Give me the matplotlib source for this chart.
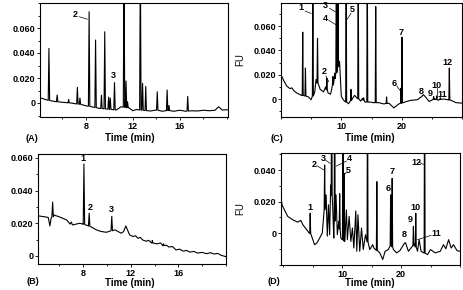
import numpy as np
import matplotlib
matplotlib.use("Agg")
import matplotlib.pyplot as plt
from matplotlib.ticker import MultipleLocator

plt.rcParams['font.family'] = ['Liberation Sans Narrow', 'Liberation Sans', 'DejaVu Sans']
plt.rcParams['font.size'] = 6.5
plt.rcParams['font.weight'] = 'bold'

# ---------------- data ----------------
# (A) baseline knots and peaks
a_base_t = [4.1, 4.5, 5.0, 5.5, 6.0, 6.5, 7.0, 7.6, 8.0, 8.5, 9.0, 9.5, 10.0, 10.6, 11.0,
            11.7, 12.0, 12.3, 13.0, 13.5, 14.0, 14.5, 15.0, 15.5, 16.0, 16.5, 17.0,
            17.5, 18.0, 18.5, 19.0, 19.3, 19.6, 20.1]
a_base_y = [0.0042, 0.0030, 0.0018, 0.0010, 0.0006, 0.0002, -0.0004, -0.0012, -0.0022, -0.0030,
            -0.0040, -0.0046, -0.0050, -0.0056, -0.0030, -0.0040, -0.0062, -0.0052, -0.0060,
            -0.0064, -0.0056, -0.0066, -0.0060, -0.0066, -0.0058, -0.0066, -0.0062,
            -0.0064, -0.0058, -0.0062, -0.0058, -0.0030, -0.0056, -0.0054]
a_pk_t = [4.86, 5.56, 6.53, 7.28, 7.50, 8.28, 8.83, 9.33, 9.61, 9.94, 10.08, 10.44,
          11.25, 11.42, 11.55, 12.64, 12.83, 13.10, 14.08, 14.92, 15.08, 16.67]
a_pk_y = [0.0437, 0.0064, 0.0029, 0.0125, 0.0040, 0.0730, 0.0504, 0.0063, 0.0570, 0.0047,
          0.0040, 0.0163, 0.1200, 0.0176, 0.0010, 0.1200, 0.0157, 0.0133, 0.0090, 0.0104,
          -0.0020, 0.0053]

# (B)
b_base_t = [4.2, 5.06, 5.2, 5.3, 5.55, 5.9, 6.6, 6.9, 7.0, 7.1, 7.7, 7.95, 8.2, 8.4, 9.1, 9.5,
            9.95, 10.66, 11.2, 11.4, 11.58, 11.9, 12.2, 12.4, 12.6, 12.8, 13.0, 13.3, 13.5,
            13.8, 14.2, 14.5, 14.7, 15.0, 15.2, 15.5, 15.8, 16.1, 16.4, 16.7, 16.95, 17.3,
            17.6, 18.0, 18.35, 18.7, 19.0, 19.3, 19.6, 20.0]
b_base_y = [0.0246, 0.0236, 0.0184, 0.0230, 0.0250, 0.0242, 0.0221, 0.0195, 0.0207, 0.0190,
            0.0200, 0.0196, 0.0190, 0.0186, 0.0160, 0.0150, 0.0145, 0.0160, 0.0139, 0.0150,
            0.0184, 0.0129, 0.0119, 0.0124, 0.0108, 0.0114, 0.0098, 0.0090, 0.0096,
            0.0080, 0.0074, 0.0080, 0.0063, 0.0066, 0.0055, 0.0058, 0.0037, 0.0042,
            0.0030, 0.0034, 0.0024, 0.0028, 0.0018, 0.0022, 0.0014, 0.0020, 0.0012,
            0.0016, 0.0004, -0.0004]
b_pk_t = [5.43, 8.06, 8.50, 10.40, 13.80, 14.75]
b_pk_y = [0.0330, 0.0563, 0.0262, 0.0242, 0.0095, 0.0075]

# (C)
c_base_t = [0.0, 0.4, 0.95, 1.5, 1.8, 2.1, 2.6, 3.4, 3.8, 4.55, 5.0, 5.6, 5.8, 6.5, 7.05, 7.4,
            7.8, 8.2, 8.4, 9.7, 10.0, 10.4, 11.2, 11.8, 12.2, 13.2, 13.5, 13.9, 14.8,
            15.3, 16.2, 17.0, 17.9, 18.7, 19.55, 20.5, 21.5, 22.6, 23.3, 23.6, 23.9,
            24.55, 25.5, 26.1, 26.4, 27.0, 28.2, 29.0, 30.0]
c_base_y = [0.0199, 0.0157, 0.0107, 0.0085, 0.0092, 0.0070, 0.0050, 0.0030, 0.0028, 0.0017,
            -0.0006, 0.0060, 0.0160, 0.0079, 0.0059, 0.0100, 0.0050, 0.0040, 0.0080, 0.0310,
            0.0020, -0.0011, -0.0039, 0.0000, 0.0030, -0.0017, 0.0005, -0.0025, -0.0025,
            -0.0030, -0.0030, -0.0040, -0.0035, -0.0073, -0.0040, -0.0025, -0.0011, -0.0006,
            0.0020, 0.0036, 0.0020, -0.0020, 0.0000, -0.0010, -0.0003, 0.0000, -0.0011,
            -0.0030, -0.0034]
c_pk_t = [3.60, 4.05, 5.28, 6.05, 7.60, 8.60, 8.90, 9.17, 9.45, 10.80, 11.60, 12.80, 13.70,
          14.30, 15.70, 17.50, 19.90, 20.05, 25.30, 25.80, 26.40, 27.90]
c_pk_y = [0.0550, 0.0255, 0.1200, 0.0499, 0.0170, 0.0185, 0.0213, 0.1200, 0.1200, 0.1200,
          0.0079, 0.1200, 0.0010, 0.1200, 0.0760, 0.0017, 0.0090, 0.0508, 0.0020, 0.0025,
          0.0010, 0.0255]

# (D)
d_base_t = [-0.35, -0.17, 0.23, 0.8, 1.65, 2.5, 2.95, 3.35, 4.0, 4.75, 5.34, 5.74, 6.2, 6.65,
            7.3, 7.5, 7.7, 7.9, 8.07, 8.4, 8.6, 8.98, 9.2, 9.43, 9.8, 10.45, 10.74, 10.9,
            11.2, 11.5, 11.76, 12.0, 12.33, 12.5, 12.7, 13.0, 13.3, 13.6, 13.97, 14.7,
            15.2, 15.4, 16.4, 16.9, 17.3, 17.84, 18.35, 18.7, 19.26, 19.8, 20.7, 21.25,
            21.8, 22.3, 22.8, 23.07, 23.4, 24.5, 25.0, 25.8, 26.65, 27.2, 27.6, 28.07,
            28.5, 28.9, 29.5, 30.0]
d_base_y = [0.0221, 0.0179, 0.0147, 0.0105, 0.0084, 0.0069, 0.0078, 0.0053, 0.0021, -0.0010,
            -0.0074, -0.0063, -0.0032, 0.0000, 0.0242, -0.0020, 0.0179, -0.0011, 0.0305,
            0.0179, -0.0032, 0.0242, -0.0011, 0.0074, -0.0032, -0.0053, 0.0147, -0.0042,
            0.0105, -0.0053, 0.0032, -0.0095, 0.0140, -0.0116, 0.0116, -0.0116, 0.0032,
            -0.0105, -0.0011, -0.0105, -0.0074, -0.0095, -0.0126, -0.0168, -0.0116, -0.0105,
            -0.0074, -0.0105, -0.0126, -0.0112, -0.0063, -0.0116, -0.0090, -0.0070, -0.0116,
            -0.0042, -0.0116, -0.0137, -0.0105, -0.0126, -0.0116, -0.0074, -0.0100, -0.0042,
            -0.0095, -0.0074, -0.0112, -0.0116]
d_pk_t = [2.95, 4.60, 7.05, 8.24, 8.75, 9.60, 10.15, 10.35, 14.32, 15.90, 18.24, 18.50,
          20.70, 22.10, 22.50, 24.00]
d_pk_y = [0.0080, 0.0126, 0.0432, 0.1200, 0.1200, 0.0250, 0.1200, 0.0380, 0.1200, 0.0326,
          0.0242, 0.0347, -0.0063, 0.0042, 0.0126, 0.1200]

# peak labels: text, x, y, leader line (x0, y0, x1, y1) or None
a_labels = [("2", 7.1, 0.071, (7.44, 0.069, 8.14, 0.067)), ("3", 10.36, 0.0216, None)]
b_labels = [("1", 8.0, 0.0596, None), ("2", 8.56, 0.0297, None), ("3", 10.4, 0.0287, None)]
c_labels = [("1", 3.33, 0.0752, (4.0, 0.0724, 5.0, 0.0704)),
            ("3", 7.33, 0.0770, (8.05, 0.0746, 9.0, 0.0718)),
            ("4", 7.33, 0.0662, (7.9, 0.0648, 9.28, 0.0606)),
            ("5", 11.8, 0.0740, (11.6, 0.0704, 10.95, 0.0656)),
            ("2", 7.2, 0.0227, (7.45, 0.0190, 7.9, 0.0143)),
            ("7", 19.9, 0.0550, None),
            ("6", 18.7, 0.0129, (19.2, 0.0107, 19.7, 0.0073)),
            ("8", 23.3, 0.0059, None), ("9", 24.8, 0.0045, None),
            ("10", 25.7, 0.0115, (25.8, 0.0087, 25.8, 0.0017)),
            ("11", 26.8, 0.0036, None), ("12", 27.6, 0.0303, None)]
d_labels = [("1", 4.49, 0.0162, None),
            ("2", 5.34, 0.0436, (5.74, 0.0427, 6.93, 0.0400)),
            ("3", 6.76, 0.0470, (7.2, 0.0463, 8.0, 0.0442)),
            ("4", 11.2, 0.0470, (10.74, 0.0457, 9.03, 0.0425)),
            ("5", 11.0, 0.0400, (10.74, 0.0385, 10.28, 0.0364)),
            ("6", 17.8, 0.0280, None), ("7", 18.5, 0.0390, None),
            ("8", 20.6, -0.0010, None), ("9", 21.5, 0.0084, None),
            ("10", 22.5, 0.0162, None),
            ("11", 25.9, -0.0006, (25.1, -0.0015, 22.8, -0.0042)),
            ("12", 22.6, 0.0450, (23.1, 0.0448, 23.8, 0.0436))]


def trace(bt, by, pt, py, w):
    t = list(bt)
    y = list(by)
    for p, h in zip(pt, py):
        b = np.interp(p, bt, by)
        t += [p - w, p, p + w]
        y += [b, h, b]
    order = np.argsort(t, kind="stable")
    return np.array(t)[order], np.array(y)[order]


W, H = 463, 290
fig = plt.figure(figsize=(W / 100, H / 100), dpi=100)


def make_ax(l, r, top, bot):
    return fig.add_axes([l / W, 1 - bot / H, (r - l) / W, (bot - top) / H])


panels = [
    ("(A)", make_ax(40, 228, 3, 117), a_base_t, a_base_y, a_pk_t, a_pk_y, a_labels,
     (4.1, 20.1), (-0.0112, 0.080), [8, 12, 16], 2, [0, 0.02, 0.04, 0.06], 0.06,
     (32, 138), (130, 138)),
    ("(C)", make_ax(281, 462, 3, 117), c_base_t, c_base_y, c_pk_t, c_pk_y, c_labels,
     (0, 30), (-0.0148, 0.079), [10, 20], 5, [0, 0.02, 0.04, 0.06], 0.08,
     (277, 138), (370, 138)),
    ("(B)", make_ax(38, 226, 154, 264), b_base_t, b_base_y, b_pk_t, b_pk_y, b_labels,
     (4.2, 20.0), (-0.0049, 0.0624), [8, 12, 16], 2, [0, 0.02, 0.04, 0.06], 0.06,
     (33, 282), (130, 283)),
    ("(D)", make_ax(281, 460, 153, 265), d_base_t, d_base_y, d_pk_t, d_pk_y, d_labels,
     (-0.35, 30), (-0.0203, 0.0508), [10, 20], 5, [0, 0.02, 0.04], 0.08,
     (274, 282), (370, 283)),
]

for tag, ax, bt, by, pt, py, labs, xl, yl, xt, xminor, yt, w, tagpos, timepos in panels:
    t, y = trace(bt, by, pt, py, w)
    ax.plot(t, y, color="black", lw=0.8)
    ax.set_xlim(*xl)
    ax.set_ylim(*yl)
    ax.set_xticks(xt)
    ax.set_xticklabels([str(v) for v in xt])
    ax.xaxis.set_minor_locator(MultipleLocator(xminor))
    ax.set_yticks(yt)
    ax.set_yticklabels(["0" if v == 0 else f"{v:.3f}" for v in yt])
    ax.yaxis.set_minor_locator(MultipleLocator(0.01))
    ax.tick_params(which="both", direction="out", length=2, width=0.6, pad=1.5, labelsize=6.5)
    ax.tick_params(which="minor", length=1.5)
    for s in ax.spines.values():
        s.set_linewidth(0.8)
    ax.set_ylabel("FU", fontsize=7)
    ax.yaxis.set_label_coords(-0.2, 0.5)
    for txt, lx, ly, lead in labs:
        ax.text(lx, ly, txt, ha="center", va="center", fontsize=6.5)
        if lead is not None:
            ax.plot([lead[0], lead[2]], [lead[1], lead[3]], color="black", lw=0.5)
    fig.text(tagpos[0] / W, 1 - tagpos[1] / H, tag, ha="center", va="center", fontsize=6.5)
    fig.text(timepos[0] / W, 1 - timepos[1] / H, "Time (min)", ha="center", va="center",
             fontsize=7)

fig.savefig("out.png", dpi=100)
